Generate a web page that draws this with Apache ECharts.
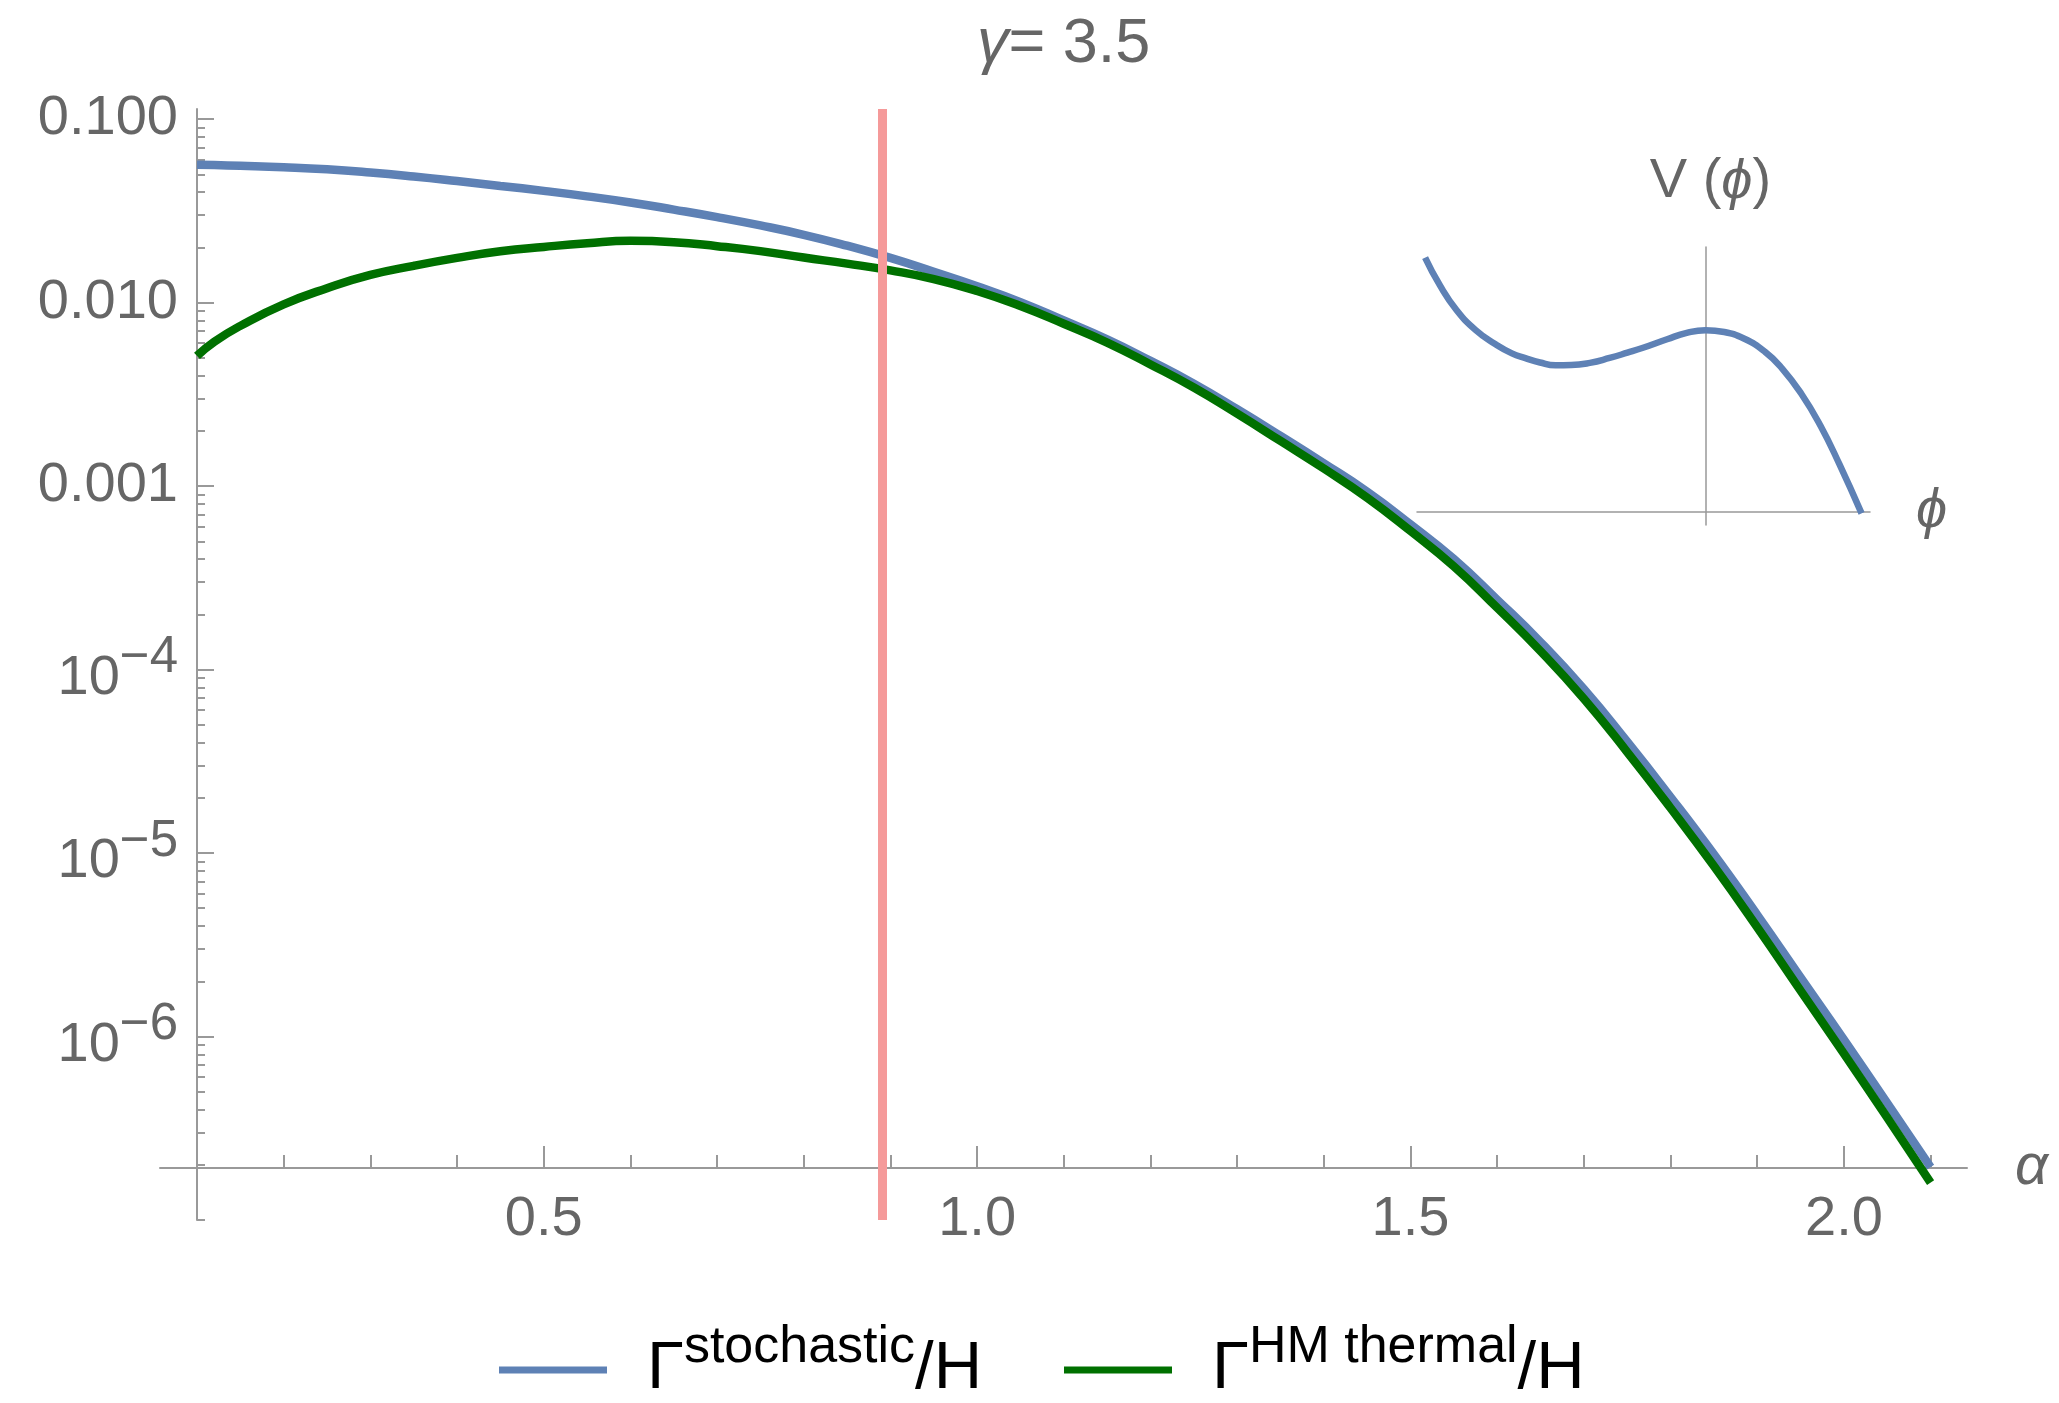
<!DOCTYPE html>
<html>
<head>
    <meta charset="utf-8">
    <title>γ = 3.5</title>
    <style>
        html, body { margin: 0; padding: 0; background: #fff; }
        #chart { width: 2059px; height: 1403px; }
    </style>
    <script src="https://cdn.jsdelivr.net/npm/echarts@6.0.0/dist/echarts.min.js"></script>
</head>
<body>
    <div id="chart"></div>
    <script>
        // alpha grid and the two rates
        const alpha = [0.10, 0.12, 0.15, 0.20, 0.25, 0.30, 0.35, 0.40, 0.45, 0.50, 0.55, 0.60,
                       0.65, 0.70, 0.75, 0.80, 0.85, 0.90, 0.95, 1.00, 1.05, 1.10, 1.15, 1.20,
                       1.25, 1.30, 1.35, 1.40, 1.45, 1.50, 1.55, 1.60, 1.65, 1.70, 1.75, 1.80,
                       1.85, 1.90, 1.95, 2.00, 2.05, 2.10];
        const gammaStochastic = [5.64e-2, 5.61e-2, 5.56e-2, 5.46e-2, 5.32e-2, 5.11e-2, 4.86e-2, 4.59e-2,
                                 4.32e-2, 4.06e-2, 3.79e-2, 3.51e-2, 3.21e-2, 2.92e-2, 2.63e-2, 2.34e-2,
                                 2.04e-2, 1.75e-2, 1.47e-2, 1.227e-2, 1.005e-2, 7.98e-3, 6.30e-3, 4.81e-3,
                                 3.61e-3, 2.62e-3, 1.875e-3, 1.33e-3, 9.31e-4, 6.18e-4, 4.00e-4, 2.40e-4,
                                 1.41e-4, 7.82e-5, 4.04e-5, 2.02e-5, 9.84e-6, 4.60e-6, 2.10e-6, 9.62e-7,
                                 4.33e-7, 1.94e-7];
        const gammaThermal = [5.12e-3, 6.12e-3, 7.46e-3, 9.77e-3, 1.197e-2, 1.413e-2, 1.585e-2, 1.750e-2,
                              1.901e-2, 2.009e-2, 2.104e-2, 2.168e-2, 2.133e-2, 2.028e-2, 1.905e-2, 1.758e-2,
                              1.629e-2, 1.496e-2, 1.343e-2, 1.156e-2, 9.57e-3, 7.66e-3, 6.05e-3, 4.60e-3,
                              3.44e-3, 2.48e-3, 1.76e-3, 1.245e-3, 8.63e-4, 5.69e-4, 3.65e-4, 2.17e-4,
                              1.26e-4, 6.93e-5, 3.55e-5, 1.76e-5, 8.49e-6, 3.94e-6, 1.78e-6, 8.07e-7,
                              3.61e-7, 1.60e-7];
        const alphaMark = 0.886;

        // inset potential V(phi)
        const phi = [-0.898, -0.85, -0.797, -0.736, -0.675, -0.62, -0.577, -0.53, -0.48, -0.43,
                     -0.37, -0.307, -0.25, -0.20, -0.123, -0.06, 0, 0.06, 0.123, 0.19, 0.245,
                     0.307, 0.368, 0.429, 0.5];
        const potential = [1.400, 1.245, 1.110, 1.000, 0.925, 0.872, 0.846, 0.822, 0.807, 0.808,
                           0.820, 0.847, 0.876, 0.903, 0.950, 0.985, 1.0, 0.990, 0.954, 0.882, 0.790,
                           0.650, 0.475, 0.262, -0.009];

        // ticks
        const yMajor = [0.1, 0.01, 0.001, 1e-4, 1e-5, 1e-6];
        const yMajorBase = ['0.100', '0.010', '0.001', '10', '10', '10'];
        const yMajorExp = ['', '', '', '−4', '−5', '−6'];
        const yMinor = [];
        for (let e = -7; e <= -2; e++) {
            for (let m = 1; m <= 9; m++) {
                if (m === 1 && e !== -7) continue;
                yMinor.push(m * Math.pow(10, e));
            }
        }
        const xMajor = [0.5, 1.0, 1.5, 2.0];
        const xMinor = [0.2, 0.3, 0.4, 0.6, 0.7, 0.8, 0.9, 1.1, 1.2, 1.3, 1.4,
                        1.6, 1.7, 1.8, 1.9, 2.1];

        const FONT = "'Liberation Sans', Arial, sans-serif";
        const GRAY = '#666666';
        const AXIS = '#999999';
        const BLUE = '#5e81b5';
        const GREEN = '#007000';

        const chart = echarts.init(document.getElementById('chart'));

        function yLabel(v) {
            const i = yMajor.findIndex(t => Math.abs(Math.log10(t) - Math.log10(v)) < 1e-6);
            if (i < 0) return '';
            if (!yMajorExp[i]) return '{p|' + yMajorBase[i] + '}';
            return '{b|' + yMajorBase[i] + '}{s|' + yMajorExp[i] + '}';
        }

        const legendRich = {
            g0: { fontSize: 67, fontFamily: FONT, color: '#000', padding: [0, 0, 15, 35], verticalAlign: 'bottom' },
            g: { fontSize: 67, fontFamily: FONT, color: '#000', padding: [0, 0, 15, 0], verticalAlign: 'bottom' },
            s: { fontSize: 52, fontFamily: FONT, color: '#000', padding: [0, 0, 44, 0], verticalAlign: 'top' }
        };
        const legendSup = { 'stochastic': 'stochastic', 'HM thermal': 'HM thermal' };
        function legendText(name) {
            return '{g0|Γ}{s|' + legendSup[name] + '}{g|/H}';
        }

        chart.setOption({
            animation: false,
            backgroundColor: '#fff',
            title: {
                text: '{i|γ}{n|= 3.5}',
                left: 977, top: 13, padding: 0,
                textStyle: {
                    fontWeight: 'normal',
                    rich: {
                        i: { fontSize: 63, fontStyle: 'italic', fontWeight: 'normal', color: GRAY, fontFamily: FONT },
                        n: { fontSize: 63, fontWeight: 'normal', color: GRAY, fontFamily: FONT }
                    }
                }
            },
            legend: [
                {
                    data: ['stochastic'], left: 494, top: 1317, icon: 'rect',
                    itemWidth: 108, itemHeight: 7, formatter: legendText,
                    textStyle: { rich: legendRich }, selectedMode: false
                },
                {
                    data: ['HM thermal'], left: 1059, top: 1317, icon: 'rect',
                    itemWidth: 108, itemHeight: 7, formatter: legendText,
                    textStyle: { rich: legendRich }, selectedMode: false
                }
            ],
            grid: [
                { left: 197, top: 109, width: 1770, height: 1111 },
                { left: 160, top: 109, width: 1807, height: 1059 },
                { left: 1417, top: 247, width: 453, height: 278 }
            ],
            xAxis: [
                { type: 'value', gridIndex: 0, min: 0.1, max: 2.142, show: false, position: 'bottom' },
                {
                    type: 'value', gridIndex: 1, min: 0.0573, max: 2.142, position: 'bottom',
                    axisLine: { show: true, lineStyle: { color: AXIS, width: 2 } },
                    axisTick: { show: true, inside: true, length: 22, customValues: xMajor, lineStyle: { color: AXIS, width: 2 } },
                    axisLabel: {
                        show: true, customValues: xMajor, margin: 24,
                        formatter: v => v.toFixed(1), fontSize: 56, color: GRAY, fontFamily: FONT
                    },
                    splitLine: { show: false },
                    name: 'α', nameLocation: 'end', nameGap: 48,
                    nameTextStyle: { fontSize: 58, fontStyle: 'italic', color: GRAY, fontFamily: FONT }
                },
                {
                    type: 'value', gridIndex: 1, min: 0.0573, max: 2.142, position: 'bottom',
                    axisLine: { show: false },
                    axisTick: { show: true, inside: true, length: 13, customValues: xMinor, lineStyle: { color: AXIS, width: 2 } },
                    axisLabel: { show: false },
                    splitLine: { show: false }
                },
                {
                    type: 'value', gridIndex: 2, min: -0.924, max: 0.527,
                    axisLine: { show: true, onZero: true, lineStyle: { color: AXIS, width: 1.5 } },
                    axisTick: { show: false }, axisLabel: { show: false }, splitLine: { show: false },
                    name: 'ϕ', nameLocation: 'end', nameGap: 46,
                    nameTextStyle: { fontSize: 56, fontStyle: 'italic', color: GRAY, fontFamily: FONT }
                }
            ],
            yAxis: [
                {
                    type: 'log', gridIndex: 0, min: 1e-7, max: 0.1134, position: 'left',
                    axisLine: { show: true, lineStyle: { color: AXIS, width: 2 } },
                    axisTick: { show: true, inside: true, length: 17, customValues: yMajor, lineStyle: { color: AXIS, width: 2 } },
                    axisLabel: {
                        show: true, customValues: yMajor, margin: 19, formatter: yLabel,
                        rich: {
                            p: { fontSize: 56, color: GRAY, fontFamily: FONT },
                            b: { fontSize: 56, color: GRAY, fontFamily: FONT, verticalAlign: 'bottom' },
                            s: { fontSize: 51, color: GRAY, fontFamily: FONT, padding: [0, 0, 23, 0], verticalAlign: 'top' }
                        }
                    },
                    splitLine: { show: false }
                },
                {
                    type: 'log', gridIndex: 0, min: 1e-7, max: 0.1134, position: 'left',
                    axisLine: { show: false },
                    axisTick: { show: true, inside: true, length: 8, customValues: yMinor, lineStyle: { color: AXIS, width: 2 } },
                    axisLabel: { show: false },
                    splitLine: { show: false }
                },
                { type: 'value', gridIndex: 1, show: false, min: 0, max: 1 },
                {
                    type: 'value', gridIndex: 2, min: -0.073, max: 1.458,
                    axisLine: { show: true, onZero: true, lineStyle: { color: AXIS, width: 1.5 } },
                    axisTick: { show: false }, axisLabel: { show: false }, splitLine: { show: false },
                    name: '{n|V (}{i|ϕ}{n|)}', nameLocation: 'end', nameGap: 37,
                    nameTextStyle: {
                        padding: [0, 0, 0, 10],
                        rich: {
                            n: { fontSize: 56, color: GRAY, fontFamily: FONT },
                            i: { fontSize: 56, color: GRAY, fontFamily: FONT, fontStyle: 'italic' }
                        }
                    }
                }
            ],
            series: [
                {
                    name: 'stochastic', type: 'line', xAxisIndex: 0, yAxisIndex: 0,
                    data: alpha.map((a, i) => [a, gammaStochastic[i]]),
                    showSymbol: false, smooth: 0.5, color: BLUE,
                    itemStyle: { color: BLUE },
                    lineStyle: { color: BLUE, width: 8.5 }, z: 2
                },
                {
                    name: 'HM thermal', type: 'line', xAxisIndex: 0, yAxisIndex: 0,
                    data: alpha.map((a, i) => [a, gammaThermal[i]]),
                    showSymbol: false, smooth: 0.5, color: GREEN,
                    itemStyle: { color: GREEN },
                    lineStyle: { color: GREEN, width: 8.5 }, z: 3
                },
                {
                    name: 'mark', type: 'line', xAxisIndex: 0, yAxisIndex: 0, data: [], z: 4,
                    markLine: {
                        silent: true, symbol: 'none', label: { show: false },
                        lineStyle: { color: '#f59a9a', width: 9, type: 'solid' },
                        data: [{ xAxis: alphaMark }]
                    }
                },
                {
                    name: 'V', type: 'line', xAxisIndex: 3, yAxisIndex: 3,
                    data: phi.map((p, i) => [p, potential[i]]),
                    showSymbol: false, smooth: 0.5,
                    lineStyle: { color: BLUE, width: 6.5 }
                }
            ]
        });
    </script>
</body>
</html>
